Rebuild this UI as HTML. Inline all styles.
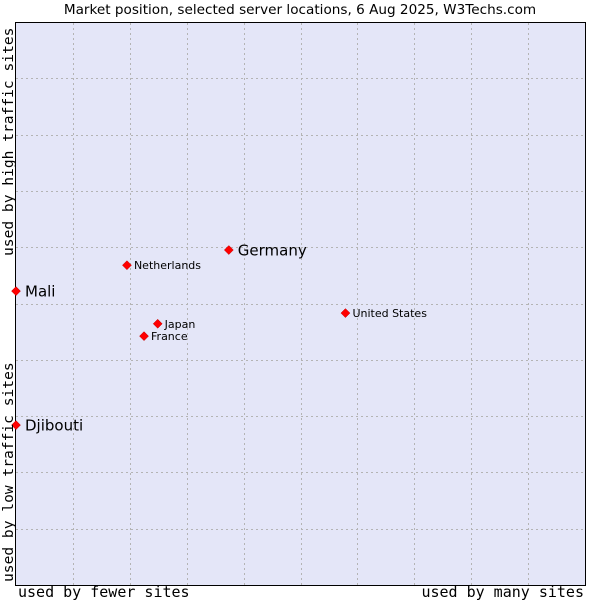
<!DOCTYPE html>
<html><head><meta charset="utf-8"><style>
body{margin:0;background:#fff;width:600px;height:600px;overflow:hidden}
svg text{font-family:"DejaVu Sans","Liberation Sans",sans-serif}
</style></head><body>
<svg id="chart" width="600" height="600">
<text x="300" y="14" text-anchor="middle" font-size="13.6" fill="#000">Market position, selected server locations, 6 Aug 2025, W3Techs.com</text>
<rect x="15.5" y="22.5" width="570" height="563" fill="#e4e6f8" stroke="#000" stroke-width="1"/>
<g id="grid"></g>
<g id="points"></g>
<text x="18" y="597" font-size="15" style="font-family:'DejaVu Sans Mono',monospace">used by fewer sites</text>
<text x="584" y="597" text-anchor="end" font-size="15" style="font-family:'DejaVu Sans Mono',monospace">used by many sites</text>
<text transform="translate(13,582) rotate(-90)" font-size="14.6" style="font-family:'DejaVu Sans Mono',monospace">used by low traffic sites</text>
<text transform="translate(13,256) rotate(-90)" font-size="14.6" style="font-family:'DejaVu Sans Mono',monospace">used by high traffic sites</text>
</svg>
<script>
const names=["Germany","Netherlands","Mali","Japan","France","United States","Djibouti"];
const xVals=[3.74,1.95,0,2.49,2.25,5.79,0];
const yVals=[5.95,5.68,5.22,4.64,4.42,4.83,2.84];
const bigLabel=[true,false,true,false,false,false,true];
const gridTicks=[1,2,3,4,5,6,7,8,9];
const NS="http://www.w3.org/2000/svg";
const X0=16,X1=585,Y0=585,Y1=22;
function sx(v){return X0+v*(X1-X0)/10;}
function sy(v){return Y0-v*(Y0-Y1)/10;}
const grid=document.getElementById('grid');
gridTicks.forEach(t=>{
  const v=document.createElementNS(NS,'line');
  v.setAttribute('x1',Math.round(sx(t))+0.5);v.setAttribute('x2',Math.round(sx(t))+0.5);
  v.setAttribute('y1',Y1+1);v.setAttribute('y2',Y0);
  v.setAttribute('stroke','#b4b4b4');v.setAttribute('stroke-dasharray','2,3');
  
  
  grid.appendChild(v);
  const h=document.createElementNS(NS,'line');
  h.setAttribute('y1',Math.round(sy(t))+0.5);h.setAttribute('y2',Math.round(sy(t))+0.5);
  h.setAttribute('x1',X0);h.setAttribute('x2',X1);
  h.setAttribute('stroke','#b4b4b4');h.setAttribute('stroke-dasharray','2,3');
  
  
  grid.appendChild(h);
});
const pts=document.getElementById('points');
names.forEach((n,i)=>{
  const x=sx(xVals[i]),y=sy(yVals[i]);
  const d=document.createElementNS(NS,'polygon');
  d.setAttribute('points',`${x},${y-4.5} ${x+4.5},${y} ${x},${y+4.5} ${x-4.5},${y}`);
  d.setAttribute('fill','#ff0000');d.setAttribute('stroke','#c00000');d.setAttribute('stroke-width','0.5');
  
  
  pts.appendChild(d);
  const t=document.createElementNS(NS,'text');
  t.setAttribute('x',x+(bigLabel[i]?9:7));
  t.setAttribute('y',y+(bigLabel[i]?5.5:4));
  t.setAttribute('font-size',bigLabel[i]?15:11);
  t.textContent=n;
  
  
  pts.appendChild(t);
});
</script>
</body></html>
